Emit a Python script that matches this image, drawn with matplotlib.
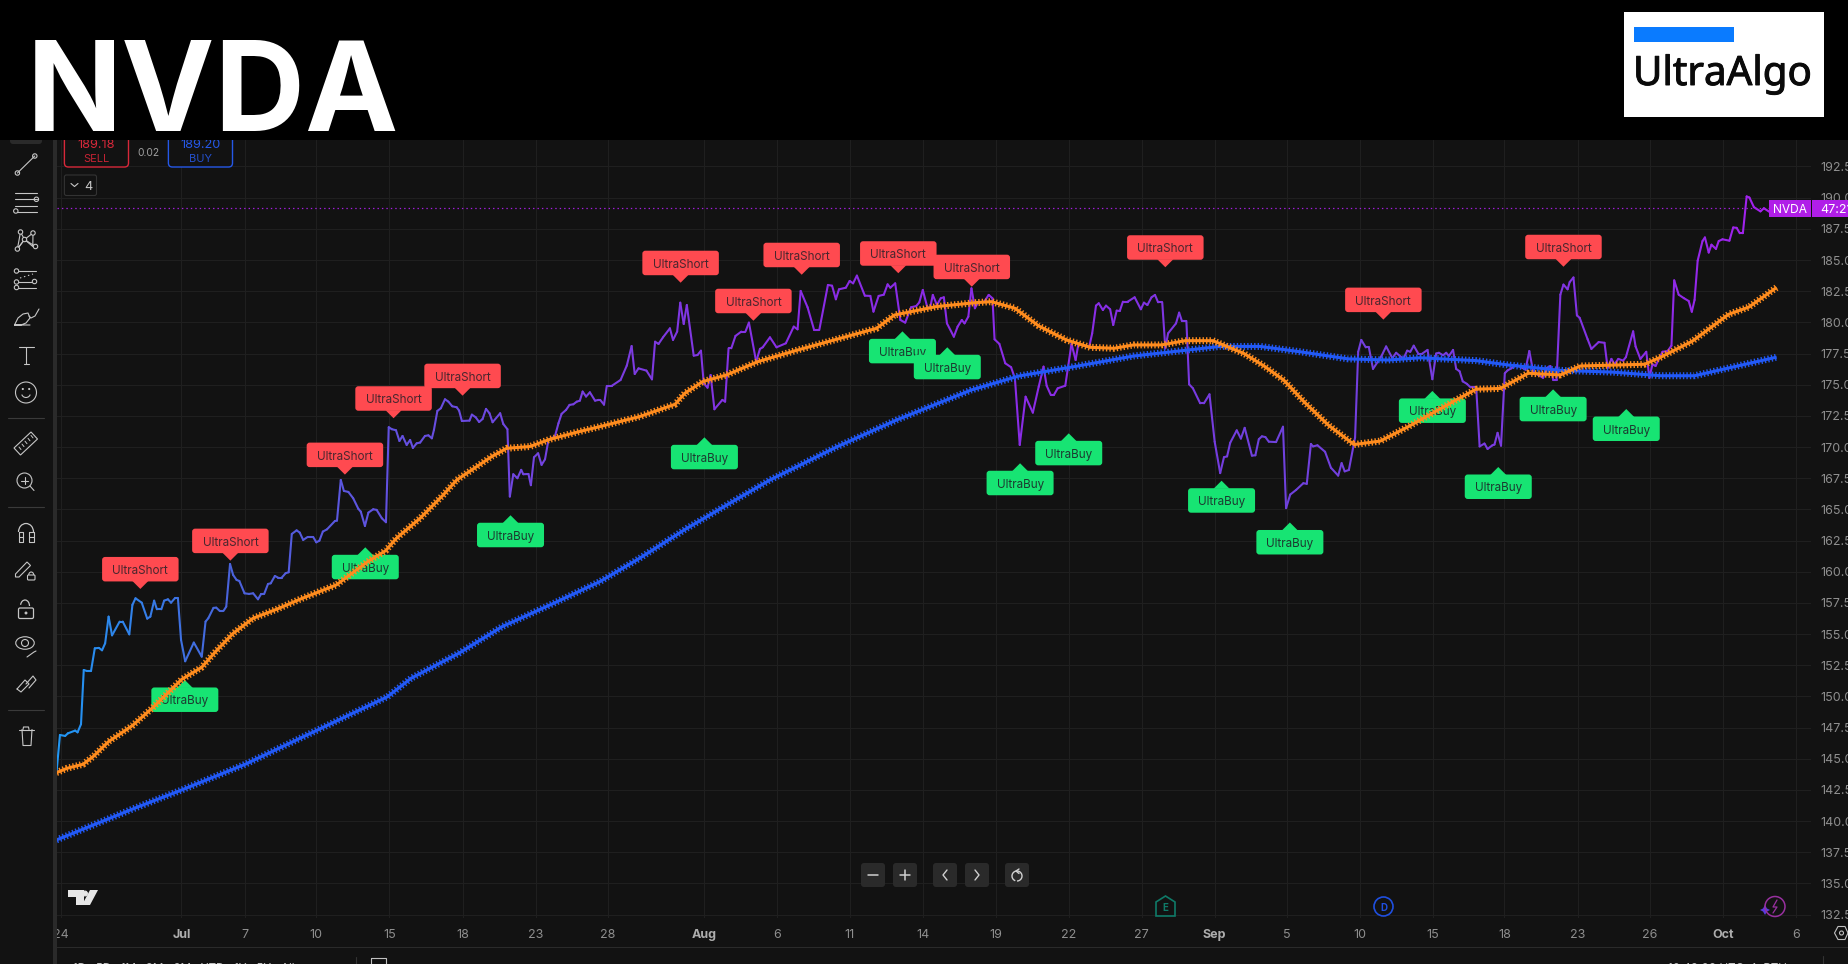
import matplotlib
matplotlib.use('Agg')
import matplotlib.pyplot as plt
import matplotlib.patheffects as pe
import numpy as np
from matplotlib.collections import LineCollection
from matplotlib.colors import LinearSegmentedColormap
from matplotlib.patches import Circle, Ellipse, FancyBboxPatch, Polygon, Rectangle, Arc
from matplotlib.transforms import IdentityTransform, Bbox

plt.rcParams['font.family'] = ['Inter', 'DejaVu Sans']
plt.rcParams['lines.scale_dashes'] = False

W, H = 1848, 964
BG = '#121212'
GRID = '#1f1f1f'

# price line, x is the hourly bar number counted from the left edge
price_bars = [0, 1, 2.5, 3.3, 5.4, 6.1, 7.1, 7.9, 8.8, 10, 11.1, 12.3, 13.2, 14.1, 15.1, 16.1, 18.3, 19.2, 21.1, 22,
              22.9, 24.7, 26.3, 27.2, 28.3, 29.1, 30.4, 31.2, 32.3, 33.2, 34.3, 35.2, 36.1, 37.3, 39.8, 42.1, 43.2, 44, 45.5, 46.3,
              47.3, 48.4, 49.2, 50.3, 51.2, 52.2, 53, 54.5, 55.8, 57, 58.4, 59.3, 60.2, 61.3, 62.1, 63.3, 64.2, 65.3, 66.4, 67.3,
              68.2, 69.6, 70.5, 71.5, 72.8, 74.4, 75.3, 76.2, 77.2, 78.4, 80.7, 81.3, 82.4, 83.3, 84.6, 86, 87.5, 88.2, 89.4, 90.4,
              91.8, 92.8, 94.3, 95.5, 96.3, 97.2, 98.4, 99.4, 100.3, 101.5, 102.5, 103.3, 104.4, 105.4, 106.8, 107.8, 108.8, 109.4, 110.4, 111.4,
              112.6, 113.6, 114.7, 116, 116.7, 117.5, 119.7, 120.4, 121.5, 122.5, 123.5, 124.5, 125.5, 126.4, 128.6, 129.5, 130.7, 131.4, 132.4, 133.6,
              134.7, 135.3, 136.8, 137.5, 138.4, 139.6, 140.6, 141.6, 142.6, 143.5, 144.5, 145.5, 146.4, 147.7, 148.7, 149.8, 150.8, 151.7, 152.5, 153.5,
              154.6, 156.1, 157.1, 157.6, 158.7, 159.5, 160.9, 163.5, 165.3, 166.7, 167.6, 168.7, 171, 172.6, 173.5, 174.5, 175.8, 177.8, 178.7, 179.9,
              180.8, 181.8, 182.7, 184.7, 185.8, 186.8, 187.6, 188.7, 189.6, 190.7, 193, 193.8, 194.8, 195.6, 196.8, 198.5, 199.7, 200.7, 202.8, 203.9,
              204.7, 206.8, 208.7, 211.4, 213.7, 214.8, 215.7, 217.7, 219.6, 221.1, 223.6, 224.8, 225.9, 226.8, 228.8, 229.9, 230.9, 232, 234.3, 235.9,
              236.8, 238.3, 239.8, 240.9, 241.7, 243.1, 244.6, 246, 247.7, 249.2, 250.1, 251.1, 252.4, 253.2, 254, 255.2, 256.3, 257.2, 258.1, 260.1,
              261.2, 262.4, 263.2, 264.3, 265.2, 266.2, 267.2, 268.9, 270.2, 271.3, 271.9, 273.3, 275, 276.7, 277.8, 279.2, 280.9, 283, 284.7, 286.1,
              287, 288.2, 289.1, 290.2, 292.4, 294.2, 295.4, 296.2, 299.3, 300.2, 301.3, 302.1, 303.3, 304.2, 305.4, 306.3, 307.3, 308.2, 309.1, 310.5,
              312.5, 314.3, 315.2, 316.2, 317.4, 318.4, 319.3, 320.5, 321.4, 322.2, 324.5, 325.4, 326.2, 327.5, 328.3, 329.4, 331.5, 332.6, 334.2, 335.7,
              337.3, 338.4, 339.3, 340.2, 342.1, 343.3, 344.4, 346.5, 347.5, 348.5, 349.4, 350.4, 351.4, 353.5, 355.5, 356.4, 357.6, 359.3, 361.4, 362.4,
              363.6, 364.2, 365.5, 367.7, 369.4, 371.5, 372.5, 373.4, 374.6, 376.4, 377.3, 378.2, 379.5, 380.4, 381.6, 384, 385.4, 387.2, 388.3, 390.4,
              391.5, 392.4, 393.4, 394.7, 395.9, 397.4, 398.8, 399.9, 400.7, 401.9, 402.8, 403.6, 404.8, 405.7, 406.7, 407.6, 408.8, 409.9, 411.5, 412.5,
              413.9, 414.8, 416.2, 416.8, 417.7, 418.7, 419.8, 420.6, 421.6, 423.2, 424.9, 425.8, 426.9, 428, 429.5, 430.9, 432, 433, 433.8, 434.8,
              435.9, 436.8, 438, 438.6, 439.7, 440.7, 441.5, 443.8, 444.9, 447, 448.7, 449.6, 450.7, 451.6, 452.7, 454.1, 454.9, 457, 457.7, 459.1,
              460.8, 461.7, 462.6, 463.5, 465.5, 467, 468.1, 468.9, 470.2, 471.7, 473.1, 474, 474.8, 475.7, 477.1, 477.8, 478.9, 479.7, 481, 481.8,
              482.9, 484.9, 486, 487, 487.9, 488.8, 489.9, 490.7, 492, 493.9, 494.9, 496.3, 498.6]
price_values = [143.89, 146.91, 146.83, 147.04, 147.26, 147.12, 147.77, 152.12, 152.04, 152.04, 153.86, 153.89, 153.7, 154.26, 156.4, 154.9, 156, 156, 154.98, 157.34,
                157.87, 157.52, 156.24, 156.4, 157.68, 156.99, 156.99, 157.68, 157.79, 157.52, 157.87, 157.87, 154.53, 152.82, 154.32, 153.19, 156, 156.27, 157.1, 157.12,
                156.86, 156.86, 157.2, 160.62, 159.74, 159.34, 159.26, 158.27, 158.22, 158.27, 157.79, 158.22, 158.22, 159.02, 159.07, 159.66, 159.53, 159.53, 159.88, 159.96,
                163.03, 163.32, 163.14, 162.55, 162.79, 162.79, 162.36, 162.49, 163.22, 163.4, 164.07, 164.1, 167.36, 166.48, 166.4, 165.89, 165.04, 164.82, 163.67, 164.74,
                165.01, 164.96, 164.29, 163.97, 171.59, 171.43, 171.35, 170.49, 170.89, 170.17, 170.57, 169.93, 170.3, 170.36, 170.89, 170.94, 170.7, 171.37, 172.9, 173.11,
                173.83, 173.64, 173.27, 173.19, 172.92, 172.09, 172.12, 172.6, 172.39, 172.01, 172.25, 173.06, 172.71, 171.99, 172.71, 171.85, 171.43, 166.03, 167.82, 167.5,
                168.17, 167.82, 167.84, 166.94, 169.18, 169.5, 168.57, 169.02, 170.57, 170.68, 170.89, 171.91, 172.66, 172.98, 173.38, 173.43, 173.64, 173.72, 174.45, 174.05,
                174.39, 173.72, 173.78, 173.78, 173.4, 174.9, 174.9, 175.38, 176.53, 178.1, 175.86, 176.31, 176.13, 175.43, 178.45, 178.27, 178.8, 179.52, 178.59, 179.26,
                181.58, 179.87, 181.39, 177.33, 177.38, 177.73, 175.11, 174.76, 175.78, 173.03, 173.78, 173.64, 177.92, 177.92, 178.91, 179.26, 179.26, 179.98, 176.85, 177.87,
                178, 178.8, 178, 178.32, 179.66, 179.44, 182.52, 181.21, 179.39, 179.39, 183, 182.94, 181.85, 182.65, 182.78, 183.32, 183.13, 183.75, 182.14, 182.12,
                180.86, 182.12, 182.22, 183.05, 182.78, 183.13, 180.19, 179.98, 181.21, 181.31, 181.61, 182.6, 181.21, 181.13, 182.2, 181.39, 181.93, 182.01, 179.92, 178.85,
                179.66, 180.19, 179.92, 180.46, 182.73, 181.13, 181.66, 181.66, 182.2, 181.93, 178.64, 178.27, 176.72, 176.4, 175.51, 170.17, 174.04, 172.76, 174.84, 176.45,
                174.92, 174.18, 174.18, 174.71, 174.92, 178.27, 176.98, 178.27, 178, 179.12, 181.34, 181.53, 180.99, 181.34, 181.05, 179.79, 180.94, 180.91, 181.66, 181.66,
                182.01, 181.05, 181.58, 181.39, 182.01, 182.2, 181.61, 181.61, 177.92, 179.12, 179.92, 180.78, 180.11, 180.11, 175.03, 174.71, 173.51, 173.51, 174.23, 170.43,
                167.91, 169.19, 169.25, 170.34, 171.34, 170.68, 171.54, 169.31, 169.34, 170.63, 170.86, 170.8, 170.43, 170.4, 171.63, 165.1, 166.19, 166.56, 167.1, 167.05,
                170.25, 170.05, 170.14, 169.62, 168.34, 167.71, 168.71, 168.05, 168.16, 170.77, 177.64, 178.59, 177.99, 177.99, 176.27, 177.27, 178.07, 177.13, 177.56, 177.07,
                177.73, 177.64, 178.13, 177.5, 177.5, 177.79, 175.44, 177.5, 177.56, 177.36, 177.56, 177.3, 177.79, 176.27, 176.07, 175.27, 175.07, 174.78, 174.78, 170.05,
                170.28, 169.85, 170.14, 170.2, 171.14, 170.11, 175.92, 176.15, 176.3, 176.58, 176.35, 176.21, 177.7, 176.07, 175.78, 175.55, 176.35, 176.5, 175.41, 175.41,
                182.22, 183.03, 182.65, 183.23, 183.6, 180.56, 180.36, 178.65, 177.87, 178.42, 178.36, 176.35, 177.07, 176.64, 177.07, 176.93, 177.21, 179.28, 178.07, 177.07,
                177.64, 175.55, 176.64, 176.5, 177.64, 177.7, 178.13, 183.37, 182.22, 181.94, 181.71, 180.85, 181.8, 184.95, 186.52, 186.81, 185.6, 186.23, 185.89, 186.52,
                186.66, 186.55, 187.61, 187.58, 187.15, 187.15, 190.1, 190.01, 189.24, 188.9, 189.15, 188.9, 188.8]

# the two moving averages
fast_ma_bars = [0, 3.1, 7.7, 10.6, 15.1, 22, 27.7, 36.3, 42.1, 46.1, 51.2, 57, 63.9, 70.8, 81.1, 90.2, 95.4, 98.5, 105.4, 112.1,
                116, 121.8, 126.1, 130.5, 137.2, 143, 150.8, 157.5, 169, 179.3, 182.1, 187.3, 194.2, 203.3, 214.8, 237.7, 242.9, 254.9, 266.4, 271,
                277.8, 284.7, 292.7, 299.6, 306.5, 312.2, 320.3, 327.1, 335.2, 344.2, 350, 355.8, 361.6, 368.6, 376.1, 383.7, 391.8, 405.7, 411.5, 418.5,
                426.6, 435.9, 441.7, 460.3, 465, 474.2, 484.7, 490.5, 498.6]
fast_ma_values = [143.89, 144.24, 144.56, 145.17, 146.38, 147.66, 149.05, 151.37, 152.34, 153.59, 155.06, 156.27, 157, 157.82, 158.94, 160.81, 161.69, 162.68, 164.29, 166.16,
                  167.36, 168.43, 169.23, 169.9, 170.04, 170.62, 171.19, 171.64, 172.44, 173.43, 174.31, 175.25, 175.78, 176.85, 177.78, 179.52, 180.59, 181.26, 181.58, 181.66,
                  181.13, 179.71, 178.59, 178, 177.92, 178.19, 178.19, 178.53, 178.53, 177.5, 176.5, 175.35, 173.63, 171.77, 170.2, 170.48, 171.63, 173.78, 174.64, 174.7,
                  175.92, 175.78, 176.5, 176.64, 177.21, 178.5, 180.65, 181.22, 182.8]
slow_ma_bars = [0, 22.6, 36.3, 54.7, 75.3, 95.9, 102.8, 116.6, 129.2, 144.1, 157.5, 169, 182.7, 197.6, 206.8, 226.3, 243.5, 265.2, 279, 295,
                312.2, 337.3, 348.9, 360.5, 374.4, 386, 395.3, 411.5, 420.8, 435.9, 451, 465, 474.8, 485.8, 498.6]
slow_ma_values = [138.49, 141.03, 142.5, 144.56, 147.26, 149.97, 151.46, 153.46, 155.6, 157.47, 159.21, 161.08, 163.48, 165.89, 167.36, 170.03, 172.17, 174.58, 175.7, 176.45,
                  177.3, 178.07, 178.07, 177.64, 177.07, 176.98, 177.16, 176.93, 176.58, 176.15, 176.01, 175.72, 175.72, 176.41, 177.21]

# signal labels, given by the point of their little arrow
short_bars = [24.3, 50.4, 83.6, 97.7, 117.7, 180.9, 202, 216, 244, 265.3, 321.4, 384.6, 436.8]
short_prices = [158.62, 160.89, 167.79, 172.31, 174.12, 183.18, 180.13, 183.82, 183.94, 182.86, 184.42, 180.22, 184.46]
buy_bars = [37.2, 89.5, 131.6, 187.8, 245.2, 258.2, 279.3, 293.4, 337.7, 357.5, 398.8, 417.9, 433.8, 455]
buy_prices = [151.32, 161.96, 164.53, 170.78, 179.28, 178, 168.7, 171.1, 167.3, 163.95, 174.5, 168.4, 174.63, 173.05]

x_tick_bars = [1.3, 36.2, 54.5, 75.2, 96.5, 117.7, 138.9, 159.8, 187.6, 208.9, 229.9, 251.1, 272.3, 293.4, 314.6, 335.7, 356.6, 377.7, 398.9,
               419.7, 440.9, 461.9, 483.1, 504.1]
x_tick_labels = ['24', 'Jul', '7', '10', '15', '18', '23', '28', 'Aug', '6', '11', '14', '19', '22', '27', 'Sep', '5', '10', '15',
                 '18', '23', '26', 'Oct', '6']
MONTHS = ['Jul', 'Aug', 'Sep', 'Oct']
y_ticks = [132.5, 135, 137.5, 140, 142.5, 145, 147.5, 150, 152.5, 155, 157.5, 160, 162.5, 165, 167.5, 170, 172.5, 175, 177.5, 180,
           182.5, 185, 187.5, 190, 192.5]
last_price = 189.15

fig = plt.figure(figsize=(W / 100, H / 100), dpi=100, facecolor=BG)
L, R, T, B = 56.5, 1811, 140, 918
ax = fig.add_axes([L / W, 1 - B / H, (R - L) / W, (B - T) / H], facecolor=BG)
for s in ax.spines.values():
    s.set_visible(False)
ax.set_axisbelow(True)
ax.grid(True, color=GRID, linewidth=0.75)
ax.yaxis.tick_right()
ax.set_yticks(y_ticks, [f'{v:.2f}' for v in y_ticks])
ax.set_xticks(x_tick_bars, x_tick_labels)
ax.set_xlim(0, 508.55)
ax.set_ylim(132.23, 194.625)
ax.tick_params(length=0, labelcolor='#8e8e8e', labelsize=9)
ax.tick_params(axis='y', pad=6.5)
ax.tick_params(axis='x', pad=8)
for lbl in ax.get_xticklabels():
    if lbl.get_text() in MONTHS:
        lbl.set_fontweight('bold')
        lbl.set_color('#adadad')
# the first date is cut off by the toolbar
ax.get_xticklabels()[0].set_clip_box(Bbox([[L, 0], [W, H]]))
ax.get_xticklabels()[0].set_clip_on(True)

# price line changes colour along the chart
cmap = LinearSegmentedColormap.from_list('price', [
    (0.0, '#2196f3'), (0.1, '#4a62db'), (0.2, '#6450e0'), (0.32, '#7a3de0'), (0.44, '#8a2ce6'),
    (0.6, '#8a2ce6'), (0.7, '#6e42dc'), (0.84, '#7a3be0'), (0.93, '#8a2ce6'), (1.0, '#a81fee')])
pts = np.column_stack([price_bars, price_values])
segs = np.stack([pts[:-1], pts[1:]], axis=1)
lc = LineCollection(segs, cmap=cmap, linewidths=1.5, zorder=2, capstyle='round', joinstyle='round')
lc.set_array(np.array(price_bars[:-1]) / price_bars[-1])
lc.set_clim(0, 1)
ax.add_collection(lc)

ax.axhline(last_price, color='#a51fe0', lw=0.9, linestyle=(0, (1.0, 2.2)), zorder=2)


def draw_signal(bar, price, text, color, text_color, width, is_short, z):
    x, y = ax.transData.transform((bar, price))
    t = IdentityTransform()
    if is_short:
        tri = [(x - 8, y + 8), (x + 8, y + 8), (x, y)]
        y0 = y + 7.5
    else:
        tri = [(x - 8, y - 8), (x + 8, y - 8), (x, y)]
        y0 = y - 7.5 - 24.5
    ax.add_patch(Polygon(tri, closed=True, fc=color, ec='none', transform=t, zorder=z, clip_on=False))
    ax.add_patch(FancyBboxPatch((x - width / 2, y0), width, 24.5, boxstyle='round,pad=0,rounding_size=3',
                                fc=color, ec='none', transform=t, zorder=z, clip_on=False))
    ax.text(x, y0 + 12, text, color=text_color, fontsize=8.4, ha='center', va='center_baseline',
            transform=t, zorder=z, clip_on=False)


fig.canvas.draw()
z = 3.0
for b, p in zip(short_bars, short_prices):
    draw_signal(b, p, 'UltraShort', '#ff4a50', '#48262e', 76.5, True, z)
    z += 0.01
for b, p in zip(buy_bars, buy_prices):
    draw_signal(b, p, 'UltraBuy', '#17e473', '#1c3a30', 67, False, z)
    z += 0.01

# moving averages: solid core plus short dashes for the cross marks
ax.plot(slow_ma_bars, slow_ma_values, color='#2259f6', lw=2.2, zorder=6, solid_capstyle='butt')
ax.plot(slow_ma_bars, slow_ma_values, color='#2259f6', lw=5.0, linestyle=(0, (1.0, 1.5)), zorder=6, dash_capstyle='butt')
ax.plot(fast_ma_bars, fast_ma_values, color='#ff8c1e', lw=2.2, zorder=7, solid_capstyle='butt')
ax.plot(fast_ma_bars, fast_ma_values, color='#ff8c1e', lw=5.0, linestyle=(0, (1.0, 1.5)), zorder=7, dash_capstyle='butt')

# everything around the chart is drawn on a full figure layer in pixels
ui = fig.add_axes([0, 0, 1, 1], zorder=10)
ui.set_xlim(0, W)
ui.set_ylim(H, 0)
ui.axis('off')
ui.patch.set_alpha(0)
ICON = '#c6c6c6'


def line(xs, ys, color=ICON, lw=0.8, **kw):
    ui.plot(xs, ys, color=color, lw=lw, solid_capstyle='round', **kw)


def dot(x, y, r=2.2, color=ICON, lw=0.8, fill='none', z=3):
    ui.add_patch(Circle((x, y), r, fc=fill, ec=color, lw=lw, zorder=z))


def rbox(x0, y0, x1, y1, fc, ec='none', lw=1.0, r=3, z=2):
    ui.add_patch(FancyBboxPatch((x0, y0), x1 - x0, y1 - y0, boxstyle=f'round,pad=0,rounding_size={r}',
                                fc=fc, ec=ec, lw=lw, zorder=z))


# toolbar divider and bottom separator
ui.add_patch(Rectangle((52.6, 140), 3.9, H - 140, fc='#2a2a2a', ec='none'))
ui.add_patch(Rectangle((56.5, 946.7), W - 56.5, 1.2, fc='#2a2a2a', ec='none'))
for y in (418, 507, 710):
    line([8, 44], [y, y], color='#3a3a3a', lw=0.8)
rbox(10, 130, 42, 144, '#2a2a2a')

# drawing tools
line([17.4, 34.8], [173, 156]); dot(17.4, 173); dot(34.8, 156)
for y, x0 in ((193, 15), (199.3, 15), (206, 15), (212, 17)):
    line([x0, 37], [y, y])
dot(36.4, 199.3); dot(15.8, 211)
line([20.5, 24.5, 33, 32.8, 24.5, 17.4, 20.5], [232, 239.5, 233, 246.5, 239.5, 249, 232])
line([17.4, 24.5, 35.5], [249, 239.5, 246.5])
for p in ((20.5, 232), (33, 233), (24.5, 239.5), (17.4, 249), (35.5, 246.5)):
    dot(*p, fill=BG)
line([17, 36], [270.5, 270.5]); line([17, 36], [281.5, 281.5]); line([17, 36], [287.5, 287.5])
line([20, 33], [278, 274], linestyle=(0, (1, 2)))
for p in ((16.5, 271), (16.5, 282), (34.5, 281.5), (16.5, 287.5)):
    dot(*p, fill=BG)
line([14.5, 18, 23, 28, 30, 26, 21, 14.5, 30], [325, 318, 314, 313, 318, 323, 325, 325, 325])
line([29, 31, 35, 39], [316, 318, 316, 309])
line([19, 33.5], [346.5, 346.5]); line([26, 26], [346.5, 363.5]); line([23.5, 28.5], [363.5, 363.5])
dot(26, 392.5, r=10.5)
dot(22.8, 389, r=0.5, fill=ICON); dot(29.2, 389, r=0.5, fill=ICON)
ui.add_patch(Arc((26, 393), 9, 9, theta1=20, theta2=160, ec=ICON, lw=0.8))
ui.add_patch(Polygon([(14, 448), (31, 432), (37.5, 439), (20.5, 455)], closed=True, fc='none', ec=ICON, lw=0.8))
for i in range(5):
    line([19 + i * 3, 21 + i * 3], [447 - i * 2.9, 449.5 - i * 2.9], lw=0.7)
dot(24.5, 480.5, r=7.5); line([30, 34], [486, 490.5]); line([21, 28], [480.5, 480.5]); line([24.5, 24.5], [477, 484])
ui.add_patch(Arc((26, 532), 15, 17, theta1=180, theta2=360, ec=ICON, lw=0.9))
line([18.5, 18.5, 23, 23, 18.5], [532, 541.5, 541.5, 532, 532]); line([29, 29, 33.5, 33.5, 29], [532, 541.5, 541.5, 532, 532])
line([18.5, 23], [536.5, 536.5]); line([29, 33.5], [536.5, 536.5])
ui.add_patch(Polygon([(15.5, 574), (27, 562), (30.5, 565.5), (19, 577), (15.5, 577)], closed=True, fc='none', ec=ICON, lw=0.8))
rbox(27.5, 575, 35, 580, 'none', ICON, 0.8, r=1); ui.add_patch(Arc((31.2, 575), 5, 6, theta1=180, theta2=360, ec=ICON, lw=0.8))
rbox(18.5, 608, 33.5, 618.5, 'none', ICON, 0.9, r=1.5); dot(26, 613, r=0.9, fill=ICON)
ui.add_patch(Arc((25, 606), 9, 12, theta1=195, theta2=360, ec=ICON, lw=0.9))
ui.add_patch(Ellipse((25, 643), 18.5, 12.5, fc='none', ec=ICON, lw=0.8)); dot(25, 643, r=3.5)
line([27, 34, 36], [657, 652, 651])
line([17, 25, 29, 21, 17], [689, 680, 684, 692, 689]); line([26, 33, 36, 29], [684, 676, 680, 688])
line([18.5, 33.5], [729.5, 729.5]); line([22, 23, 31, 32], [729.5, 745.5, 745.5, 729.5]); line([23, 23.5, 28.5, 29], [729.5, 727, 727, 729.5])

# order widget, its top part is hidden by the title band
rbox(64.4, 130, 128.5, 167, BG, '#d8283a', 1.0, r=4)
rbox(168.4, 130, 232.5, 167, BG, '#2558e8', 1.0, r=4)
TXT = dict(ha='center', va='center_baseline')
ui.text(96.5, 144, '189.18', color='#d8283a', fontsize=9.2, **TXT)
ui.text(96.5, 158, 'SELL', color='#c42334', fontsize=8, **TXT)
ui.text(200.5, 144, '189.20', color='#2558e8', fontsize=9.2, **TXT)
ui.text(200.5, 158, 'BUY', color='#2450cc', fontsize=8, **TXT)
ui.text(148, 151.5, '0.02', color='#a0a0a0', fontsize=7.4, **TXT)
rbox(64.4, 175, 96.5, 195.5, BG, '#333333', 0.8, r=2)
line([71, 74.5, 78], [183.5, 186.5, 183.5], color='#c8c8c8')
ui.text(88, 186, '4', color='#c8c8c8', fontsize=9.2, **TXT)

# last price tag on the scale
ui.add_patch(Rectangle((1769, 200), 42, 17, fc='#b01ee8', ec='none', zorder=3))
ui.add_patch(Rectangle((1812, 200), 36, 17, fc='#b01ee8', ec='none', zorder=3))
ui.text(1790, 208.5, 'NVDA', color='white', fontsize=8.6, zorder=4, **TXT)
ui.text(1820, 208.5, '47:21', color='white', fontsize=9, zorder=4, ha='left', va='center_baseline', clip_on=False)

# chart navigation buttons
for x in (873, 905, 945, 977, 1017):
    rbox(x - 12, 863, x + 12, 887, '#2a2a2a', r=3)
line([868, 878], [875, 875], color='#d0d0d0', lw=1.1)
line([900, 910], [875, 875], color='#d0d0d0', lw=1.1); line([905, 905], [870, 880], color='#d0d0d0', lw=1.1)
line([947, 943, 947], [870, 875, 880], color='#d0d0d0', lw=1.0)
line([975, 979, 975], [870, 875, 880], color='#d0d0d0', lw=1.0)
ui.add_patch(Arc((1017, 876), 10, 10, theta1=-250, theta2=90, ec='#d0d0d0', lw=1.0, zorder=4))
line([1019, 1016, 1019], [869, 871, 873.5], color='#d0d0d0', lw=1.0, zorder=4)

# watermark
ui.add_patch(Polygon([(68, 890), (84, 890), (84, 905), (76, 905), (76, 897), (68, 897)], closed=True, fc='#e6e6e6', ec='none'))
ui.add_patch(Polygon([(90, 890), (98, 890), (90, 905), (82, 905)], closed=True, fc='#e6e6e6', ec='none'))
dot(85, 893.5, r=2.4, color='#e6e6e6', fill='#e6e6e6')

# event badges on the time scale
TEAL, DBLUE, VIOLET = '#0f7a68', '#1f4fe0', '#98309f'
ui.add_patch(Polygon([(1156, 902), (1165.5, 896), (1175, 902), (1175, 916), (1156, 916)], closed=True, fc='none', ec=TEAL, lw=1.2))
ui.text(1165.5, 907, 'E', color=TEAL, fontsize=7, fontweight='bold', **TXT)
dot(1383.5, 906.5, r=9.5, color=DBLUE, lw=1.2)
ui.text(1383.5, 907, 'D', color=DBLUE, fontsize=7, fontweight='bold', **TXT)
dot(1775, 906.5, r=10, color=VIOLET, lw=1.1)
line([1777, 1773, 1777, 1773], [900, 907, 907, 913], color=VIOLET, lw=0.9)
ui.add_patch(Polygon([(1765, 905), (1767, 908.5), (1770, 910), (1767, 911.5), (1765, 915), (1763, 911.5), (1760, 910), (1763, 908.5)],
                     closed=True, fc='#5a3ae0', ec='none'))

# range buttons at the bottom are almost cut off by the picture edge
ui.text(73, 969.5, '1D   5D   1M   3M   6M   YTD   1Y   5Y   All', color='#c0c0c0', fontsize=8.4, ha='left', va='center', clip_on=True)
ui.add_patch(Rectangle((371, 958), 15, 12, fc='none', ec='#c0c0c0', lw=0.8, clip_on=True))
line([355.5, 355.5], [957, 964], color='#333333')
ui.text(1668, 969.5, '10:49:09 UTC-4  RTH', color='#c0c0c0', fontsize=8.4, ha='left', va='center', clip_on=True)
line([1823, 1823], [956, 964], color='#333333')
ui.add_patch(Polygon([(1834.5, 933), (1838, 926.5), (1845, 926.5), (1848, 933), (1845, 939.5), (1838, 939.5)],
                     closed=True, fc='none', ec='#c0c0c0', lw=0.8))
dot(1841.5, 933, r=2.0, color='#c0c0c0')

# black title band with the logo
ui.add_patch(Rectangle((0, 0), W, 140, fc='black', ec='none', zorder=5))
ui.text(27, 131, 'NVDA', color='white', fontsize=90, fontweight='bold', ha='left', va='baseline', zorder=6)
ui.add_patch(Rectangle((1624, 12), 200, 105, fc='white', ec='none', zorder=6))
ui.add_patch(Rectangle((1633.7, 27), 100, 15, fc='#0a7bff', ec='none', zorder=7))
ui.text(1633, 85, 'UltraAlgo', color='#0a0a0a', fontsize=29, family=['Noto Sans', 'DejaVu Sans'], ha='left', va='baseline', zorder=7,
        path_effects=[pe.withStroke(linewidth=0.7, foreground='#0a0a0a')])

fig.savefig('out.png', dpi=100, facecolor=BG)
